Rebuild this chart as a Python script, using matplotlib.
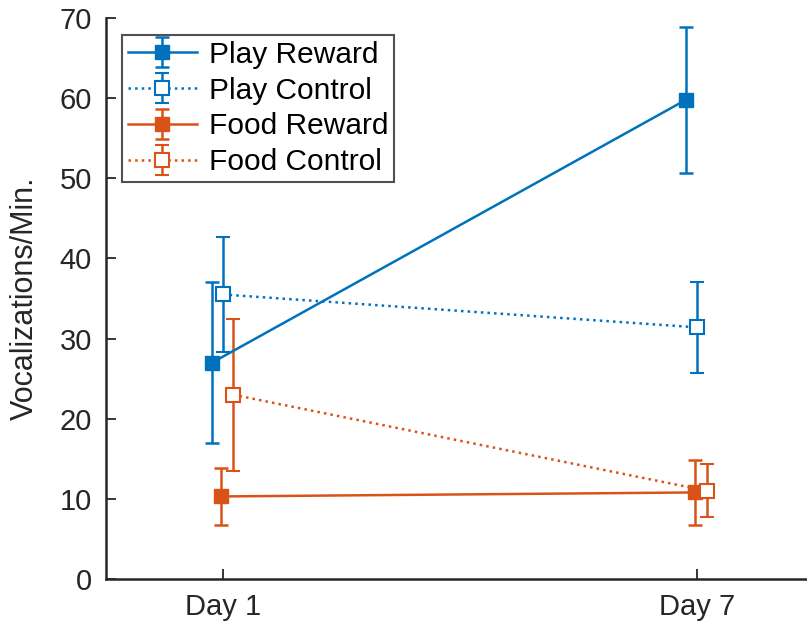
import numpy as np
import matplotlib
matplotlib.use("Agg")
from matplotlib import pyplot as plt
from matplotlib.legend_handler import HandlerErrorbar
from matplotlib.container import ErrorbarContainer

plt.rcParams['font.family'] = ['Liberation Sans', 'DejaVu Sans']

days = ['Day 1', 'Day 7']
x = np.array([1, 2])

play_reward = [27.0, 59.8]
play_reward_err = [10.0, 9.1]
play_control = [35.5, 31.4]
play_control_err = [7.2, 5.7]
food_reward = [10.3, 10.8]
food_reward_err = [3.5, 4.1]
food_control = [23.0, 11.0]
food_control_err = [9.5, 3.3]

blue = '#0072BD'
orange = '#D95319'

fig = plt.figure(figsize=(8.07, 6.26), dpi=100)
ax = fig.add_axes([106 / 807, 47 / 626, 708 / 807, 561 / 626])

kw = dict(capsize=5, elinewidth=1.8, capthick=1.8, lw=1.8, markersize=10)
ax.errorbar(x - 0.023, play_reward, yerr=play_reward_err, color=blue, ls='-',
            marker='s', label='Play Reward', **kw)
ax.errorbar(x, play_control, yerr=play_control_err, color=blue, ls=':',
            marker='s', mfc='white', mew=1.5, label='Play Control', **kw)
ax.errorbar(x - 0.004, food_reward, yerr=food_reward_err, color=orange, ls='-',
            marker='s', label='Food Reward', **kw)
ax.errorbar(x + 0.021, food_control, yerr=food_control_err, color=orange, ls=':',
            marker='s', mfc='white', mew=1.5, label='Food Control', **kw)

ax.set_xlim(0.753, 2.247)
ax.set_ylim(0, 70)
ax.set_xticks(x)
ax.set_xticklabels(days)
ax.set_yticks(np.arange(0, 71, 10))
ax.set_ylabel('Vocalizations/Min.', fontsize=22, color='#262626', labelpad=14)
ax.tick_params(direction='in', length=7, width=1.3, labelsize=21,
               colors='#262626', pad=10)
for s in ['top', 'right']:
    ax.spines[s].set_visible(False)
for s in ['left', 'bottom']:
    ax.spines[s].set_linewidth(1.8)
    ax.spines[s].set_color('#262626')

leg = ax.legend(loc='upper left', bbox_to_anchor=(0.0226, 0.97), fontsize=21.5,
                frameon=True, fancybox=False, edgecolor='#262626',
                handlelength=2.3, borderpad=0.2, labelspacing=0.26,
                handletextpad=0.4, borderaxespad=0,
                handler_map={ErrorbarContainer: HandlerErrorbar(yerr_size=0.5)})
leg.get_frame().set_linewidth(1.5)

fig.savefig('out.png', dpi=100)
